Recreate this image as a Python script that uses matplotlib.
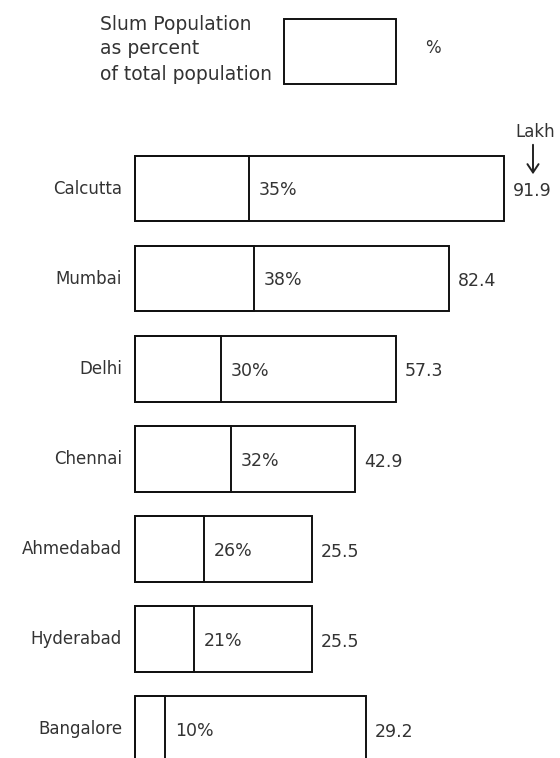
import matplotlib.pyplot as plt
from matplotlib.patches import Rectangle

# values shown on the chart
cities = ["Calcutta", "Mumbai", "Delhi", "Chennai", "Ahmedabad", "Hyderabad", "Bangalore"]
slum_pct = [35, 38, 30, 32, 26, 21, 10]
total_lakh = [91.9, 82.4, 57.3, 42.9, 25.5, 25.5, 29.2]

# bar lengths as drawn in the original (not to scale), in drawing units
drawn_total = [369, 314, 261, 220, 177, 177, 231]
drawn_slum = [114, 119, 86, 96, 69, 59, 30]

W, H = 560, 758
fig = plt.figure(figsize=(W / 100, H / 100), dpi=100)
ax = fig.add_axes([0, 0, 1, 1])

txt = "#333333"
edge = "#111111"
pos = list(range(len(cities)))

ax.barh(pos, drawn_total, height=0.73, left=0, color="white",
        edgecolor=edge, linewidth=1.4)
ax.barh(pos, drawn_slum, height=0.73, left=0, color="none",
        edgecolor=edge, linewidth=1.4)

for i, name in enumerate(cities):
    ax.text(-13, i, name, ha="right", va="center", fontsize=12, color=txt)
    ax.text(drawn_slum[i] + 10, i + 0.02, f"{slum_pct[i]}%", ha="left", va="center",
            fontsize=12.5, color=txt)
    ax.text(drawn_total[i] + 9, i + 0.03, f"{total_lakh[i]}", ha="left",
            va="center", fontsize=12.5, color=txt)

# map: x unit = 1px with bar base at px 135; category spacing ~90px starting at px 188
ax.set_xlim(-135, W - 135)
ax.set_ylim((H - 188.5) / 90.1, -188.5 / 90.1)
ax.axis("off")

# legend at the top
fig.text(100 / W, 1 - 49 / H, "Slum Population\nas percent\nof total population",
         ha="left", va="center", fontsize=13.5, color=txt, linespacing=1.4)
fig.add_artist(Rectangle((284 / W, 1 - 84 / H), 112 / W, 65 / H,
                         transform=fig.transFigure, fill=False,
                         edgecolor=edge, linewidth=1.4))
fig.text(425 / W, 1 - 48 / H, "%", ha="left", va="center", fontsize=12, color=txt)

# unit marker
fig.text(515 / W, 1 - 132 / H, "Lakh", ha="left", va="center", fontsize=12, color=txt)
ax.annotate("", xy=(533 / W, 1 - 177 / H), xytext=(533 / W, 1 - 142 / H),
            xycoords="figure fraction", textcoords="figure fraction",
            arrowprops=dict(arrowstyle="->,head_length=0.6,head_width=0.4",
                            color="#222222", lw=1.4))

fig.savefig("out.png", dpi=100)
